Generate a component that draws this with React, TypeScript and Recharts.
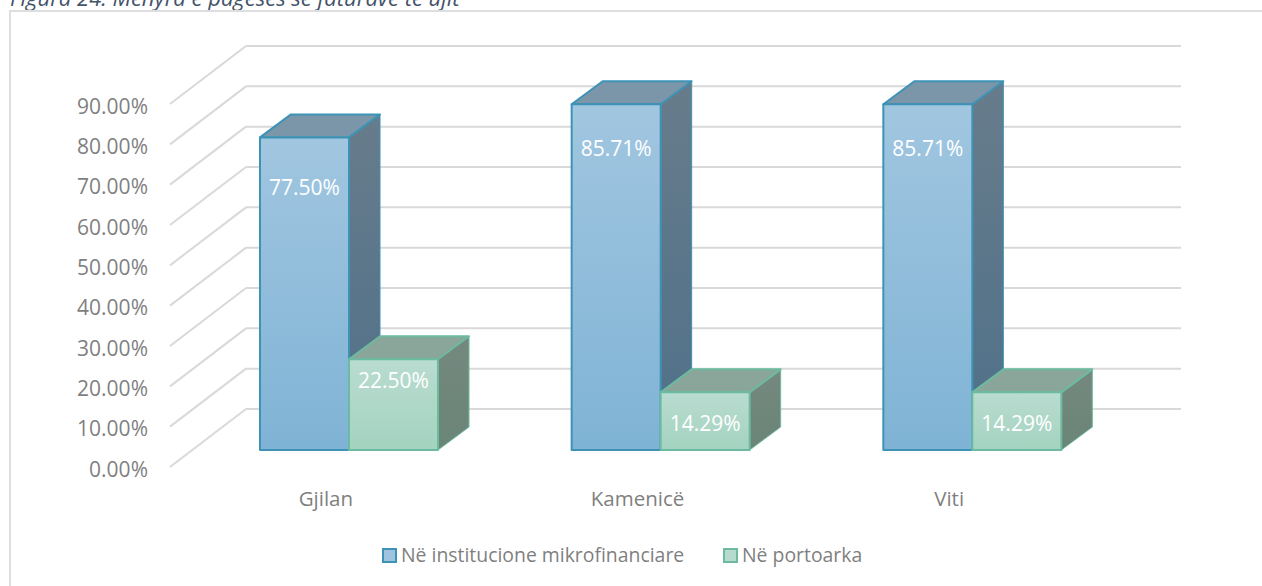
import React from 'react';
import { BarChart, Bar, XAxis, YAxis, CartesianGrid, Legend, LabelList } from 'recharts';

const categories = ['Gjilan', 'Kamenicë', 'Viti'];
const mikrofinanciare = [77.5, 85.71, 85.71];
const portoarka = [22.5, 14.29, 14.29];
const yTicks = [0, 10, 20, 30, 40, 50, 60, 70, 80, 90];

const SERIES_BLUE = 'Në institucione mikrofinanciare';
const SERIES_GREEN = 'Në portoarka';

const data = categories.map((name, i) => ({
  name,
  blue: mikrofinanciare[i],
  green: portoarka[i],
}));

const FONT = '"Open Sans", sans-serif';
const GREY = '#7f7f7f';
const GRID = '#d9d9d9';

// 3d look: floor runs from the front corner to the back wall
const FLOOR_DX = 76;
const FLOOR_DY = 58;
const BAR_DX = -53;
const BAR_DY = 41;
const DEPTH_X = 31;
const DEPTH_Y = 23;

const labelDrop = (value: number) => {
  if (value === 77.5) return 50;
  if (value === 85.71) return 44;
  if (value === 22.5) return 21;
  return 31;
};

const makeBox = (front: string, side: string, top: string, edge: string) => (props: any) => {
  const x = props.x + BAR_DX;
  const y = props.y + BAR_DY;
  const { width: w, height: h } = props;
  return (
    <g stroke={edge} strokeWidth={2} strokeLinejoin="round">
      <path
        d={`M${x + w},${y} l${DEPTH_X},${-DEPTH_Y} v${h} l${-DEPTH_X},${DEPTH_Y} z`}
        fill={`url(#${side})`}
        strokeWidth={1}
      />
      <path
        d={`M${x},${y} l${DEPTH_X},${-DEPTH_Y} h${w} l${-DEPTH_X},${DEPTH_Y} z`}
        fill={top}
      />
      <rect x={x} y={y} width={w} height={h} fill={`url(#${front})`} />
    </g>
  );
};

const BlueBox = makeBox('blueFront', 'blueSide', '#7b96a9', '#3c93b6');
const GreenBox = makeBox('greenFront', 'greenSide', '#8aa599', '#6cbba0');

const renderLabel = (props: any) => {
  const { x, y, width, value } = props;
  return (
    <text
      x={x + BAR_DX + width / 2}
      y={y + BAR_DY + labelDrop(value)}
      textAnchor="middle"
      dominantBaseline="central"
      fill="#ffffff"
      fontFamily={FONT}
      fontSize={21}
    >
      {value.toFixed(2)}%
    </text>
  );
};

const YTick = (props: any) => {
  const { y, payload } = props;
  return (
    <g>
      <line x1={246} y1={y} x2={246 - FLOOR_DX} y2={y + FLOOR_DY} stroke={GRID} strokeWidth={2} />
      <text
        x={246 - FLOOR_DX - 22}
        y={y + FLOOR_DY + 1.5}
        textAnchor="end"
        dominantBaseline="central"
        fill={GREY}
        fontFamily={FONT}
        fontSize={21}
      >
        {payload.value.toFixed(2)}%
      </text>
    </g>
  );
};

const XTick = (props: any) => {
  const { x, payload } = props;
  return (
    <text x={x - FLOOR_DX} y={498} textAnchor="middle" dominantBaseline="central" fill={GREY} fontFamily={FONT} fontSize={20.5}>
      {payload.value}
    </text>
  );
};

const LegendBox = () => (
  <div style={{ position: 'relative', height: 30, fontFamily: FONT, fontSize: 19.4, color: GREY }}>
    <span style={{ position: 'absolute', left: 382, top: 7, width: 11, height: 11, border: '2px solid #3c93b6', background: '#9fc4df' }} />
    <span style={{ position: 'absolute', left: 401, top: 0, lineHeight: '28px', whiteSpace: 'nowrap' }}>{SERIES_BLUE}</span>
    <span style={{ position: 'absolute', left: 723, top: 7, width: 11, height: 11, border: '2px solid #6cbba0', background: '#b6dbce' }} />
    <span style={{ position: 'absolute', left: 742, top: 0, lineHeight: '28px', whiteSpace: 'nowrap' }}>{SERIES_GREEN}</span>
  </div>
);

export default function App() {
  return (
    <div style={{ position: 'absolute', left: 0, top: 0, width: 1262, height: 586, overflow: 'hidden', background: '#fff' }}>
      <div
        style={{
          position: 'absolute',
          left: 10,
          top: -15,
          fontFamily: FONT,
          fontStyle: 'italic',
          fontSize: 22,
          lineHeight: '24px',
          color: '#44546a',
          whiteSpace: 'nowrap',
        }}
      >
        Figura 24. Mënyra e pagesës së faturave të ujit
      </div>
      <div
        style={{
          position: 'absolute',
          left: 9,
          top: 10,
          width: 1300,
          height: 620,
          border: '2px solid #dedede',
        }}
      />
      <div style={{ position: 'absolute', left: 0, top: 0 }}>
        <BarChart
          width={1262}
          height={586}
          data={data}
          margin={{ top: 46, right: 81, bottom: 117, left: 245 }}
          barSize={89}
          barGap={0}
        >
          <defs>
            <linearGradient id="blueFront" x1="0" y1="0" x2="0" y2="1">
              <stop offset="0%" stopColor="#a1c6e0" />
              <stop offset="100%" stopColor="#7fb3d5" />
            </linearGradient>
            <linearGradient id="blueSide" x1="0" y1="0" x2="0" y2="1">
              <stop offset="0%" stopColor="#677c8b" />
              <stop offset="100%" stopColor="#4f7089" />
            </linearGradient>
            <linearGradient id="greenFront" x1="0" y1="0" x2="0" y2="1">
              <stop offset="0%" stopColor="#b9dcd0" />
              <stop offset="100%" stopColor="#a4d3c0" />
            </linearGradient>
            <linearGradient id="greenSide" x1="0" y1="0" x2="0" y2="1">
              <stop offset="0%" stopColor="#75887f" />
              <stop offset="100%" stopColor="#6a8577" />
            </linearGradient>
          </defs>
          <CartesianGrid vertical={false} stroke={GRID} strokeWidth={2} />
          <YAxis
            type="number"
            domain={[0, 90]}
            ticks={yTicks}
            axisLine={false}
            tickLine={false}
            width={1}
            interval={0}
            tick={<YTick />}
          />
          <XAxis dataKey="name" axisLine={false} tickLine={false} interval={0} tick={<XTick />} />
          <Legend
            content={<LegendBox />}
            wrapperStyle={{ position: 'absolute', left: 0, top: 541, width: 1262, height: 30 }}
          />
          <Bar dataKey="blue" name={SERIES_BLUE} isAnimationActive={false} shape={BlueBox}>
            <LabelList dataKey="blue" content={renderLabel} />
          </Bar>
          <Bar dataKey="green" name={SERIES_GREEN} isAnimationActive={false} shape={GreenBox}>
            <LabelList dataKey="green" content={renderLabel} />
          </Bar>
        </BarChart>
      </div>
    </div>
  );
}
